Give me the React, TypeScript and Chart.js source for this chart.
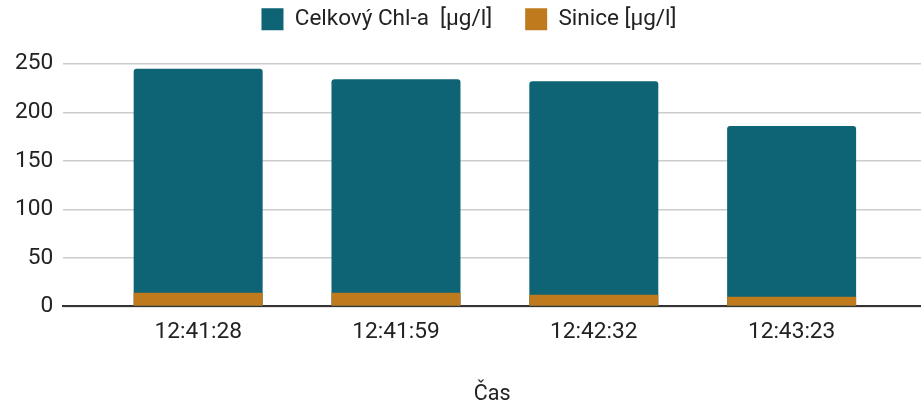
import React, { useEffect, useRef } from "react";
import { Chart, registerables } from "chart.js";

Chart.register(...registerables);

const categories = ["12:41:28", "12:41:59", "12:42:32", "12:43:23"];
const chlA = [245, 234, 232, 186];
const sinice = [14, 14, 12, 10];
const yTicks = [0, 50, 100, 150, 200, 250];

const CHL_LABEL = "Celkový Chl-a  [μg/l]";
const SIN_LABEL = "Sinice [μg/l]";
const X_TITLE = "Čas";

const legendShift = {
  id: "legendShift",
  afterLayout(chart: any) {
    const lg = chart.legend;
    if (lg) {
      lg.left += 6;
      lg.right += 6;
    }
  },
};

export default function App() {
  const ref = useRef<HTMLCanvasElement | null>(null);

  useEffect(() => {
    if (!ref.current) return;
    const font = "Roboto";
    const chart = new Chart(ref.current, {
      type: "bar",
      data: {
        datasets: [
          {
            label: SIN_LABEL,
            data: sinice.map((v, i) => ({ x: i, y: v })),
            backgroundColor: "#bf7a1e",
            borderWidth: 0,
            borderRadius: 0,
            categoryPercentage: 1,
            barPercentage: 0.652,
          },
          {
            label: CHL_LABEL,
            data: chlA.map((v, i) => ({ x: i, y: v })),
            backgroundColor: "#0e6374",
            borderWidth: 0,
            borderRadius: { topLeft: 3, topRight: 3, bottomLeft: 0, bottomRight: 0 },
            borderSkipped: "start",
            categoryPercentage: 1,
            barPercentage: 0.652,
          },
        ],
      },
      plugins: [legendShift],
      options: {
        animation: false,
        responsive: true,
        maintainAspectRatio: false,
        layout: { padding: { top: -25, left: 5, right: 0, bottom: -3.5 } },
        plugins: {
          tooltip: { enabled: false },
          legend: {
            display: true,
            position: "top",
            reverse: true,
            labels: {
              boxWidth: 22,
              boxHeight: 22,
              padding: 33,
              color: "#222222",
              font: { family: font, size: 22.5 },
            },
          },
        },
        scales: {
          x: {
            type: "linear",
            stacked: true,
            min: -0.682,
            max: 3.654,
            offset: false,
            grid: { display: false, drawTicks: false },
            border: { display: true, color: "#333333", width: 2 },
            ticks: {
              stepSize: 1,
              includeBounds: false,
              autoSkip: false,
              maxRotation: 0,
              padding: 12,
              color: "#222222",
              font: { family: font, size: 22.7 },
              callback: (v: any) => {
                const n = Number(v);
                return Number.isInteger(n) && categories[n] !== undefined ? categories[n] : "";
              },
            },
            title: {
              display: true,
              text: X_TITLE,
              color: "#222222",
              font: { family: font, size: 21.5 },
              padding: { top: 24, bottom: 0 },
            },
          },
          y: {
            stacked: false,
            min: 0,
            max: 274,
            grid: { color: "#cccccc", lineWidth: 1.5, drawTicks: false },
            border: { display: false },
            afterBuildTicks: (scale: any) => {
              scale.ticks = yTicks.map((v) => ({ value: v }));
            },
            ticks: {
              padding: 10,
              color: "#222222",
              font: { family: font, size: 22.7 },
            },
          },
        },
      },
    });
    return () => chart.destroy();
  }, []);

  return (
    <div style={{ position: "fixed", left: 0, top: 0, width: 921, height: 404, background: "#ffffff" }}>
      <canvas ref={ref} />
    </div>
  );
}
